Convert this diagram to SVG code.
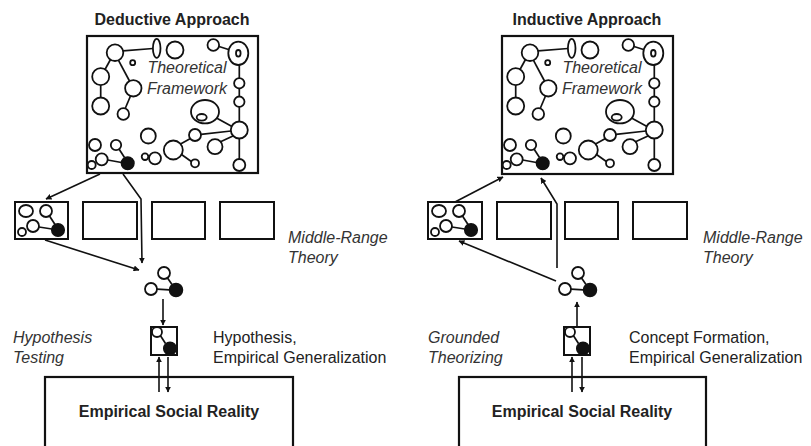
<svg xmlns="http://www.w3.org/2000/svg" xmlns:xlink="http://www.w3.org/1999/xlink" width="811" height="446" viewBox="0 0 811 446">
<style>
.bg{fill:#fff}
.frame{fill:none;stroke:#111;stroke-width:2.2}
.box{fill:none;stroke:#111;stroke-width:2}
.c{fill:none;stroke:#111;stroke-width:1.8}
.f{fill:#111;stroke:#111;stroke-width:1.5}
.ln{stroke:#111;stroke-width:1.7;fill:none}
.conn{stroke:#111;stroke-width:1.6;fill:none;marker-end:url(#ah)}
.title{font-family:"Liberation Sans",Arial,sans-serif;font-size:16px;font-weight:bold;fill:#222}
.lab{font-family:"Liberation Sans",Arial,sans-serif;font-size:16px;fill:#222}
.it{font-family:"Liberation Sans",Arial,sans-serif;font-size:16px;font-style:italic;fill:#333}
</style>
<defs>
<marker id="ah" viewBox="0 0 10 10" refX="9" refY="5" markerWidth="6" markerHeight="6" orient="auto" markerUnits="userSpaceOnUse">
<path d="M0,0 L10,5 L0,10 z" fill="#111"/>
</marker>
<g id="fwc">
<circle class="c" cx="115" cy="52.7" r="8.3"/>
<ellipse class="c" cx="156.7" cy="48.3" rx="3.8" ry="9.5"/>
<circle class="c" cx="175" cy="50" r="8.5"/>
<line class="ln" x1="123" y1="50.8" x2="153" y2="48.5"/>
<circle class="c" cx="132.7" cy="62.7" r="2.5"/>
<circle class="c" cx="100.7" cy="76.7" r="8.5"/>
<line class="ln" x1="110.5" y1="59.5" x2="105" y2="69.5"/>
<circle class="c" cx="133.3" cy="88.3" r="8.2"/>
<line class="ln" x1="118.5" y1="60.3" x2="129.5" y2="81"/>
<circle class="c" cx="100.7" cy="106" r="8.5"/>
<line class="ln" x1="100.7" y1="85.2" x2="100.7" y2="97.5"/>
<circle class="c" cx="123.3" cy="114" r="5.8"/>
<line class="ln" x1="130.5" y1="96" x2="125.2" y2="108.5"/>
<circle class="c" cx="213.3" cy="45" r="5.8"/>
<ellipse class="c" cx="238.3" cy="53.3" rx="10" ry="11.7"/>
<ellipse class="c" cx="238.3" cy="53.3" rx="2.3" ry="3.3"/>
<line class="ln" x1="219" y1="46.5" x2="228.5" y2="49.5"/>
<line class="ln" x1="239.3" y1="65" x2="239.3" y2="78.3"/>
<circle class="c" cx="239.3" cy="83.3" r="5.2"/>
<line class="ln" x1="239.3" y1="88.5" x2="239.3" y2="96.5"/>
<circle class="c" cx="239.3" cy="101.7" r="5.2"/>
<ellipse class="c" cx="205" cy="111.7" rx="14" ry="11.7"/>
<ellipse class="c" cx="201.7" cy="117.3" rx="5" ry="3.3"/>
<circle class="c" cx="239.3" cy="130" r="8.5"/>
<line class="ln" x1="239.3" y1="106.9" x2="239.3" y2="121.5"/>
<line class="ln" x1="216.5" y1="118" x2="232" y2="126.5"/>
<circle class="c" cx="195" cy="135" r="6"/>
<line class="ln" x1="201" y1="134.3" x2="231" y2="131"/>
<circle class="c" cx="215" cy="146.7" r="7.5"/>
<line class="ln" x1="220.5" y1="141.8" x2="233.5" y2="135.8"/>
<circle class="c" cx="239.3" cy="165" r="6"/>
<line class="ln" x1="239.3" y1="138.5" x2="239.3" y2="159"/>
<circle class="c" cx="173.3" cy="150" r="9.5"/>
<line class="ln" x1="180.5" y1="144" x2="190" y2="138.8"/>
<circle class="c" cx="195" cy="163.3" r="4"/>
<line class="ln" x1="181.5" y1="154.5" x2="191.3" y2="161.5"/>
<circle class="c" cx="155" cy="158.3" r="6"/>
<circle class="c" cx="145" cy="156.7" r="3.3"/>
<circle class="c" cx="148.3" cy="136" r="7.5"/>
<circle class="c" cx="95" cy="145" r="6"/>
<circle class="c" cx="116" cy="145" r="5.2"/>
<circle class="c" cx="101.7" cy="159.3" r="6"/>
<circle class="c" cx="91.7" cy="165" r="4"/>
<circle class="f" cx="127.7" cy="163.3" r="6.3"/>
<line class="ln" x1="107.7" y1="160" x2="121.5" y2="162.5"/>
<line class="ln" x1="119" y1="149" x2="124.5" y2="157.5"/>
<text class="it" x="187" y="73" text-anchor="middle">Theoretical</text>
<text class="it" x="187" y="94" text-anchor="middle">Framework</text>
</g>
<g id="mrc">
<ellipse class="c" cx="26" cy="211" rx="7" ry="6"/>
<circle class="c" cx="46" cy="211" r="6"/>
<circle class="c" cx="33" cy="226" r="6"/>
<circle class="c" cx="22" cy="232" r="4"/>
<circle class="f" cx="58" cy="230" r="6.3"/>
<line class="ln" x1="39" y1="227" x2="51.8" y2="229"/>
<line class="ln" x1="49.5" y1="216" x2="55" y2="224.5"/>
</g>
<g id="cl">
<circle class="c" cx="164" cy="273" r="6"/>
<circle class="c" cx="151" cy="289" r="6"/>
<circle class="f" cx="176" cy="290" r="6.5"/>
<line class="ln" x1="157" y1="289.2" x2="169.5" y2="289.8"/>
<line class="ln" x1="167.5" y1="278" x2="172" y2="284.5"/>
</g>
<g id="hb">
<rect class="box" x="151" y="327" width="26" height="28"/>
<circle class="c" cx="157" cy="332" r="5"/>
<circle class="f" cx="170" cy="348.5" r="6.3"/>
<line class="ln" x1="160.5" y1="335.8" x2="165.5" y2="343.5"/>
</g>
</defs>
<rect class="bg" x="0" y="0" width="811" height="446"/>

<g id="titles">
<text class="title" x="172" y="25" text-anchor="middle">Deductive Approach</text>
<text class="title" x="587" y="25" text-anchor="middle">Inductive Approach</text>
</g>

<g id="ded-framework">
<rect class="frame" x="87" y="36" width="171" height="137"/>
<use xlink:href="#fwc"/>
</g>
<g id="ind-framework">
<rect class="frame" x="502" y="36" width="171" height="138"/>
<use xlink:href="#fwc" x="415"/>
</g>

<g id="ded-middle-range">
<rect class="box" x="15" y="202" width="53" height="37"/>
<use xlink:href="#mrc"/>
<rect class="box" x="83" y="202" width="54" height="37"/>
<rect class="box" x="152" y="202" width="53" height="37"/>
<rect class="box" x="220" y="202" width="54" height="37"/>
<text class="it" x="288" y="243">Middle-Range</text>
<text class="it" x="288" y="263">Theory</text>
</g>
<g id="ind-middle-range">
<rect class="box" x="428" y="202" width="54" height="37"/>
<use xlink:href="#mrc" x="413"/>
<rect class="box" x="497" y="202" width="54" height="37"/>
<rect class="box" x="565" y="202" width="53" height="37"/>
<rect class="box" x="633" y="202" width="54" height="37"/>
<text class="it" x="703" y="243">Middle-Range</text>
<text class="it" x="703" y="263">Theory</text>
</g>

<g id="ded-cluster"><use xlink:href="#cl"/></g>
<g id="ind-cluster"><use xlink:href="#cl" x="414"/></g>

<g id="ded-hypothesis">
<use xlink:href="#hb"/>
<text class="it" x="13" y="343">Hypothesis</text>
<text class="it" x="13" y="363">Testing</text>
<text class="lab" x="213" y="343">Hypothesis,</text>
<text class="lab" x="213" y="363">Empirical Generalization</text>
</g>
<g id="ind-concept">
<use xlink:href="#hb" x="413"/>
<text class="it" x="428" y="343">Grounded</text>
<text class="it" x="428" y="363">Theorizing</text>
<text class="lab" x="629" y="343">Concept Formation,</text>
<text class="lab" x="629" y="363">Empirical Generalization</text>
</g>

<g id="ded-reality">
<rect class="frame" x="45" y="377" width="248" height="80"/>
<text class="title" x="169" y="417" text-anchor="middle">Empirical Social Reality</text>
</g>
<g id="ind-reality">
<rect class="frame" x="459" y="377" width="247" height="80"/>
<text class="title" x="582" y="417" text-anchor="middle">Empirical Social Reality</text>
</g>

<g id="connectors">
<path class="conn" d="M100,174 L46,199"/>
<path class="conn" d="M123,174 L141,199 L142,263"/>
<path class="conn" d="M45,240 L139,270"/>
<path class="conn" d="M163,299 L163,325"/>
<path class="conn" d="M159,392 L159,357"/>
<path class="conn" d="M168,357 L168,392"/>
<path class="conn" d="M455,202 L503,177"/>
<path class="conn" d="M557,268 L557,204 L541,178"/>
<path class="conn" d="M556,281 L459,241"/>
<path class="conn" d="M577,327 L577,302"/>
<path class="conn" d="M572,392 L572,357"/>
<path class="conn" d="M582,357 L582,392"/>
</g>
</svg>
